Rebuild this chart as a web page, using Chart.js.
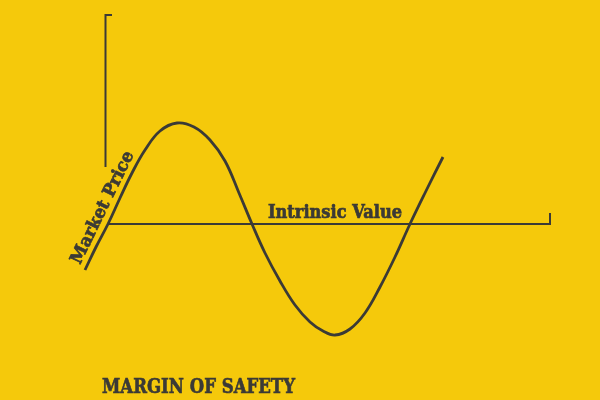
<!DOCTYPE html>
<html>
<head>
<meta charset="utf-8">
<script src="https://cdn.jsdelivr.net/npm/chart.js@4.4.1/dist/chart.umd.min.js"></script>
<style>
  html, body { margin: 0; padding: 0; background: #F5C90B; }
  #wrap { width: 600px; height: 400px; position: relative; }
</style>
</head>
<body>
<div id="wrap"><canvas id="c"></canvas></div>
<script>
// Time positions and market price deviation from intrinsic value
const timePoints  = [85, 96, 108, 120, 132, 145, 160, 177, 194, 210, 225, 239, 252, 265, 280, 295, 310, 323, 335, 350, 365, 380, 395, 410, 425, 443];
const priceValues = [-46, -23, 0, 26, 51, 74, 93, 101, 97, 84, 63, 31, 0, -29, -57, -81, -98, -107, -111, -105, -89, -63, -33, 0, 31, 67];
// Intrinsic value line (time span) and value axis span
const intrinsicTime = [109, 550];
const intrinsicValue = 0;
const valueAxisTop = 209;
const valueAxisBottom = 57;
const valueAxisTime = 105.5;
const labels = { intrinsic: "Intrinsic Value", market: "Market Price", title: "MARGIN OF SAFETY" };

const ink = '#3b3a36';

const marketData = timePoints.map((t, i) => ({ x: t, y: priceValues[i] }));
const intrinsicData = [
  { x: intrinsicTime[0], y: intrinsicValue },
  { x: intrinsicTime[1], y: intrinsicValue },
  { x: intrinsicTime[1], y: intrinsicValue + 11 }
];
const axisData = [
  { x: valueAxisTime + 6.5, y: valueAxisTop },
  { x: valueAxisTime, y: valueAxisTop },
  { x: valueAxisTime, y: valueAxisBottom }
];

function fitText(ctx, text, px, py, font, targetW, angleDeg) {
  ctx.save();
  ctx.font = font;
  const w = ctx.measureText(text).width;
  ctx.translate(px, py);
  if (angleDeg) ctx.rotate(angleDeg * Math.PI / 180);
  ctx.scale(targetW / w, 1);
  ctx.fillText(text, 0, 0);
  ctx.lineWidth = 0.7;
  ctx.strokeText(text, 0, 0);
  ctx.restore();
}

const textPlugin = {
  id: 'texts',
  afterDatasetsDraw(chart) {
    const { ctx, scales: { x, y } } = chart;
    ctx.save();
    ctx.fillStyle = ink;
    ctx.strokeStyle = ink;
    ctx.textBaseline = 'alphabetic';
    ctx.textAlign = 'left';
    fitText(ctx, labels.intrinsic, x.getPixelForValue(268), y.getPixelForValue(intrinsicValue + 6), 'bold 18px "DejaVu Serif"', 134, 0);
    fitText(ctx, labels.market, x.getPixelForValue(80), y.getPixelForValue(-41), 'bold 17.5px "DejaVu Serif"', 123, -64);
    fitText(ctx, labels.title, x.getPixelForValue(102), y.getPixelForValue(-169), 'bold 21px "DejaVu Serif"', 193, 0);
    ctx.restore();
  }
};

new Chart(document.getElementById('c'), {
  type: 'scatter',
  data: {
    datasets: [
      { data: marketData, showLine: true, borderColor: ink, borderWidth: 2.8, pointRadius: 0, tension: 0.4, fill: false },
      { data: intrinsicData, showLine: true, borderColor: ink, borderWidth: 2, pointRadius: 0, tension: 0, fill: false },
      { data: axisData, showLine: true, borderColor: ink, borderWidth: 2, pointRadius: 0, tension: 0, fill: false }
    ]
  },
  options: {
    responsive: true,
    maintainAspectRatio: false,
    animation: false,
    layout: { padding: 0 },
    plugins: { legend: { display: false }, tooltip: { enabled: false }, title: { display: false } },
    scales: {
      x: { type: 'linear', min: 0, max: 600, display: false },
      y: { type: 'linear', min: -176, max: 224, display: false }
    }
  },
  plugins: [textPlugin]
});
</script>
</body>
</html>
